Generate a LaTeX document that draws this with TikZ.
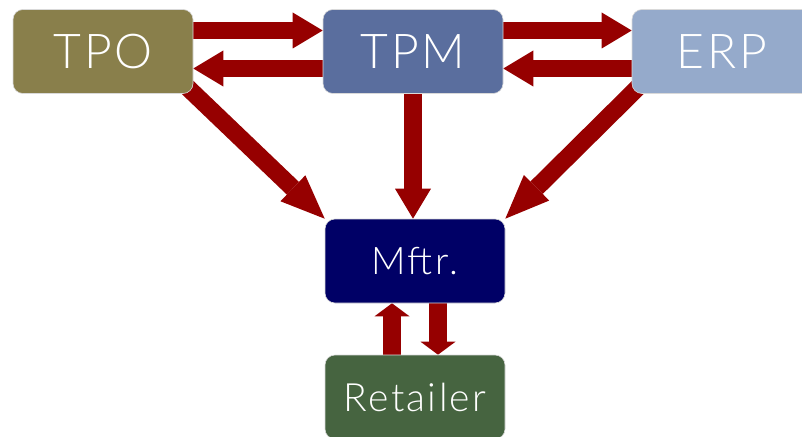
\documentclass[tikz,border=0pt]{standalone}
\usepackage{fontspec}
\setmainfont{Lato Light}[LetterSpace=6]
\usetikzlibrary{arrows.meta, calc, backgrounds}
\definecolor{tpoolive}{RGB}{137,127,75}
\definecolor{tpmblue}{RGB}{90,110,158}
\definecolor{erpblue}{RGB}{149,170,203}
\definecolor{mftrnavy}{RGB}{0,0,102}
\definecolor{retgreen}{RGB}{70,100,64}
\definecolor{flowred}{RGB}{150,0,0}

\begin{document}
\begin{tikzpicture}[x=1pt,y=-1pt,
    party/.style={draw=white!85!black,line width=0.6pt,rounded corners=10pt,
      minimum width=180pt,minimum height=84pt,inner sep=0pt,text=white},
    bigflow/.style={line width=17.5pt,flowred,
      -{Triangle[length=30pt,width=36pt,line width=0pt]}},
    diagflow/.style={line width=17.5pt,flowred,
      -{Triangle[length=44pt,width=36pt,line width=0pt]}},
    shortflow/.style={line width=18pt,flowred,
      -{Triangle[length=13pt,width=35pt,line width=0pt]}}]
  \useasboundingbox (0,0) rectangle (802,436);
  % Parties
  \node[party,fill=tpoolive,font=\fontsize{48}{50}\selectfont] (tpo) at (103,51.5) {TPO};
  \node[party,fill=tpmblue,font=\fontsize{48}{50}\selectfont] (tpm) at (413,51.5) {TPM};
  \node[party,fill=erpblue,font=\fontsize{48}{50}\selectfont] (erp) at (722,51.5) {ERP};
  \node[party,fill=mftrnavy,font=\fontsize{38}{40}\selectfont] (mftr) at (415,261) {Mftr.};
  \node[party,fill=retgreen,font=\fontsize{39}{40}\selectfont] (retailer) at (415,397) {Retailer};
  % Flows, behind the boxes
  \begin{scope}[on background layer]
    \draw[bigflow] ([yshift=21pt]tpo.east) -- ([yshift=21pt]tpm.west);
    \draw[bigflow] ([yshift=-17pt]tpm.west) -- ([yshift=-17pt]tpo.east);
    \draw[bigflow] ([yshift=21pt]tpm.east) -- ([yshift=21pt]erp.west);
    \draw[bigflow] ([yshift=-17pt]erp.west) -- ([yshift=-17pt]tpm.east);
    \draw[bigflow] (tpm.south) -- (tpm.south |- mftr.north);
    \draw[diagflow] ($(tpo.south east)+(-20,-20)$) -- (mftr.north west);
    \draw[diagflow] ($(erp.south west)+(20,-20)$) -- (mftr.north east);
    \draw[shortflow] ([xshift=-23pt]retailer.north) -- ([xshift=-23pt]mftr.south);
    \draw[shortflow] ([xshift=23pt]mftr.south) -- ([xshift=23pt]retailer.north);
  \end{scope}
\end{tikzpicture}
\end{document}
